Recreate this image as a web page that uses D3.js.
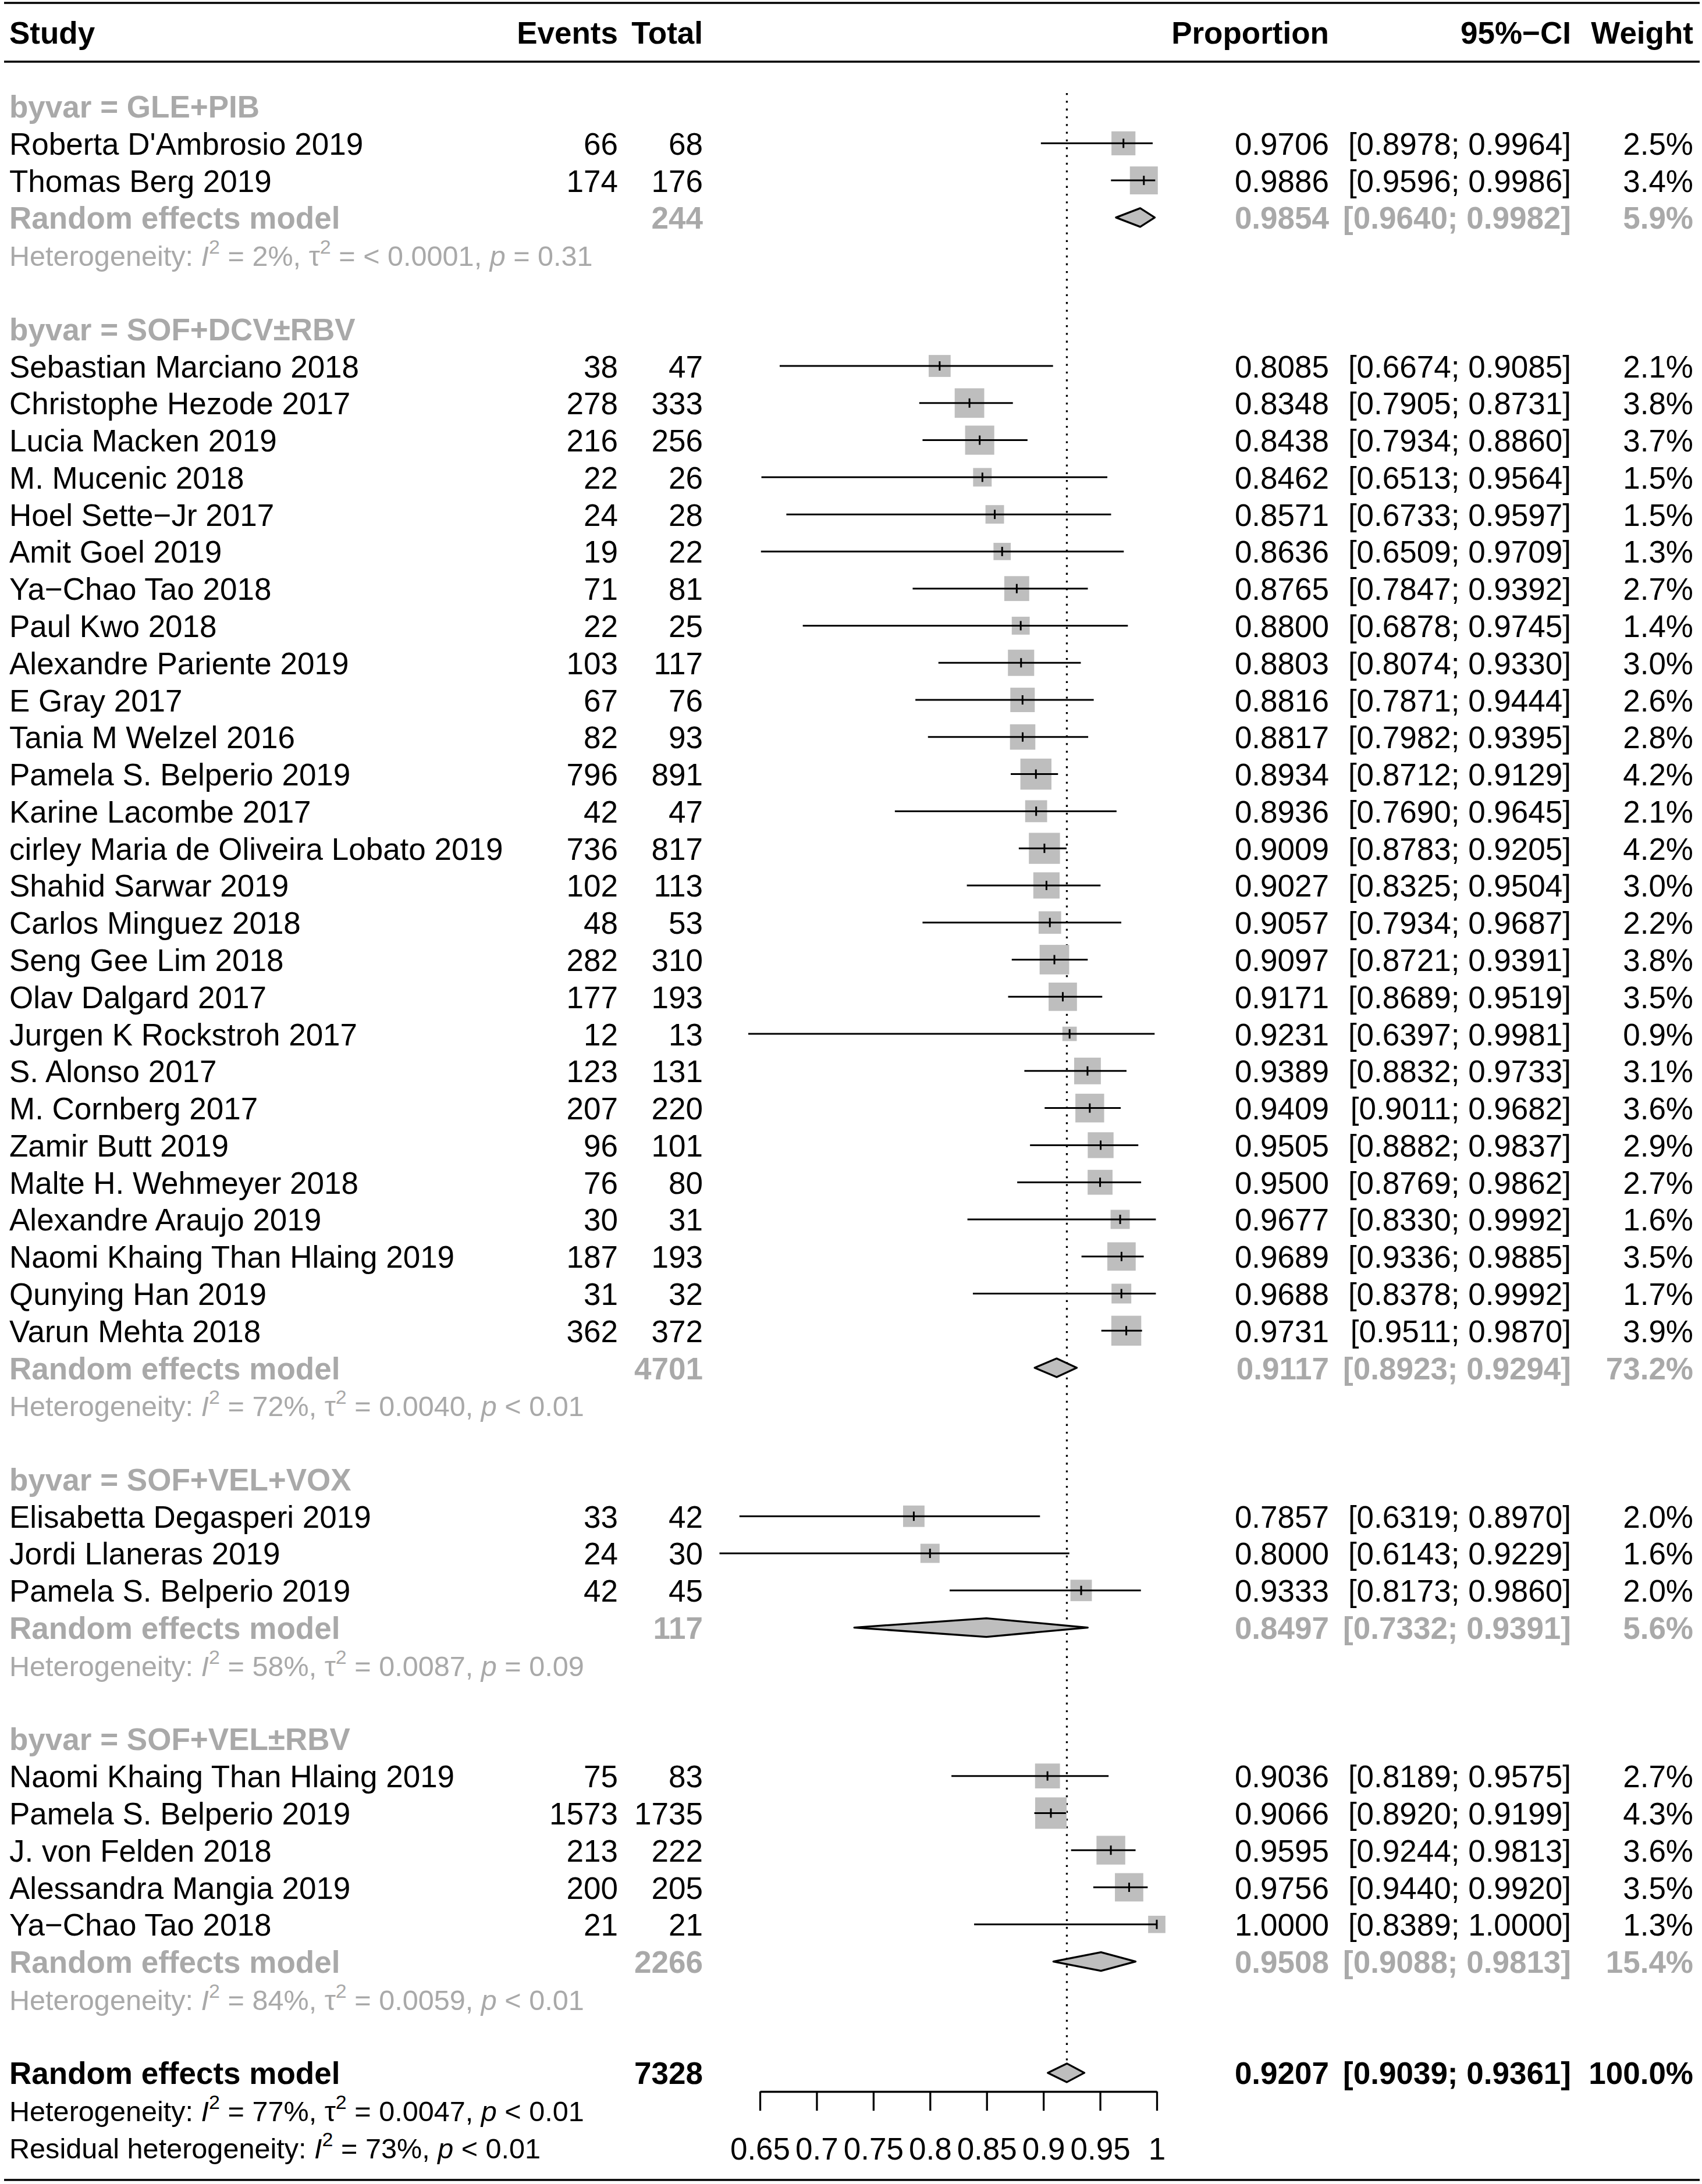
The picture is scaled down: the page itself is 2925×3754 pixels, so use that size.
<!DOCTYPE html>
<html><head><meta charset="utf-8">
<script src="https://cdn.jsdelivr.net/npm/d3@7"></script>
<style>html,body{margin:0;padding:0;background:#fff;} svg{display:block;}</style>
</head><body><svg id="chart" width="2925" height="3754"></svg>
<script>
// ---------------- DATA ----------------
const studyNames = [
  "Roberta D'Ambrosio 2019","Thomas Berg 2019",
  "Sebastian Marciano 2018","Christophe Hezode 2017","Lucia Macken 2019","M. Mucenic 2018",
  "Hoel Sette\u2212Jr 2017","Amit Goel 2019","Ya\u2212Chao Tao 2018","Paul Kwo 2018",
  "Alexandre Pariente 2019","E Gray 2017","Tania M Welzel 2016","Pamela S. Belperio 2019",
  "Karine Lacombe 2017","cirley Maria de Oliveira Lobato 2019","Shahid Sarwar 2019",
  "Carlos Minguez 2018","Seng Gee Lim 2018","Olav Dalgard 2017","Jurgen K Rockstroh 2017",
  "S. Alonso 2017","M. Cornberg 2017","Zamir Butt 2019","Malte H. Wehmeyer 2018",
  "Alexandre Araujo 2019","Naomi Khaing Than Hlaing 2019","Qunying Han 2019","Varun Mehta 2018",
  "Elisabetta Degasperi 2019","Jordi Llaneras 2019","Pamela S. Belperio 2019",
  "Naomi Khaing Than Hlaing 2019","Pamela S. Belperio 2019","J. von Felden 2018",
  "Alessandra Mangia 2019","Ya\u2212Chao Tao 2018"
];
const studyGroup = [0,0, 1,1,1,1,1,1,1,1,1,1,1,1,1,1,1,1,1,1,1,1,1,1,1,1,1,1,1, 2,2,2, 3,3,3,3,3];
const studyEvents = [66,174, 38,278,216,22,24,19,71,22,103,67,82,796,42,736,102,48,282,177,12,123,207,96,76,30,187,31,362, 33,24,42, 75,1573,213,200,21];
const studyTotals = [68,176, 47,333,256,26,28,22,81,25,117,76,93,891,47,817,113,53,310,193,13,131,220,101,80,31,193,32,372, 42,30,45, 83,1735,222,205,21];
const studyProp = [0.9706,0.9886, 0.8085,0.8348,0.8438,0.8462,0.8571,0.8636,0.8765,0.8800,0.8803,0.8816,0.8817,0.8934,0.8936,0.9009,0.9027,0.9057,0.9097,0.9171,0.9231,0.9389,0.9409,0.9505,0.9500,0.9677,0.9689,0.9688,0.9731, 0.7857,0.8000,0.9333, 0.9036,0.9066,0.9595,0.9756,1.0000];
const studyLower = [0.8978,0.9596, 0.6674,0.7905,0.7934,0.6513,0.6733,0.6509,0.7847,0.6878,0.8074,0.7871,0.7982,0.8712,0.7690,0.8783,0.8325,0.7934,0.8721,0.8689,0.6397,0.8832,0.9011,0.8882,0.8769,0.8330,0.9336,0.8378,0.9511, 0.6319,0.6143,0.8173, 0.8189,0.8920,0.9244,0.9440,0.8389];
const studyUpper = [0.9964,0.9986, 0.9085,0.8731,0.8860,0.9564,0.9597,0.9709,0.9392,0.9745,0.9330,0.9444,0.9395,0.9129,0.9645,0.9205,0.9504,0.9687,0.9391,0.9519,0.9981,0.9733,0.9682,0.9837,0.9862,0.9992,0.9885,0.9992,0.9870, 0.8970,0.9229,0.9860, 0.9575,0.9199,0.9813,0.9920,1.0000];
const studyWeight = [2.5,3.4, 2.1,3.8,3.7,1.5,1.5,1.3,2.7,1.4,3.0,2.6,2.8,4.2,2.1,4.2,3.0,2.2,3.8,3.5,0.9,3.1,3.6,2.9,2.7,1.6,3.5,1.7,3.9, 2.0,1.6,2.0, 2.7,4.3,3.6,3.5,1.3];

const groupLabels = ["GLE+PIB","SOF+DCV\u00b1RBV","SOF+VEL+VOX","SOF+VEL\u00b1RBV"];
const groupTotals = [244,4701,117,2266];
const groupProp = [0.9854,0.9117,0.8497,0.9508];
const groupLower = [0.9640,0.8923,0.7332,0.9088];
const groupUpper = [0.9982,0.9294,0.9391,0.9813];
const groupWeight = [5.9,73.2,5.6,15.4];
const groupI2 = [2,72,58,84];
const groupTau2 = ["< 0.0001","0.0040","0.0087","0.0059"];
const groupPval = ["= 0.31","< 0.01","= 0.09","< 0.01"];

const overallTotal = [7328];
const overallProp = [0.9207];
const overallLower = [0.9039];
const overallUpper = [0.9361];
const overallWeight = [100.0];
const overallI2 = [77];
const overallTau2 = ["0.0047"];
const overallPval = ["< 0.01"];
const residualI2 = [73];
const residualPval = ["< 0.01"];

const axisTicks = [0.65,0.7,0.75,0.8,0.85,0.9,0.95,1];
const axisTickLabels = ["0.65","0.7","0.75","0.8","0.85","0.9","0.95","1"];
const headers = ["Study","Events","Total","Proportion","95%\u2212CI","Weight"];

// ---------------- LAYOUT ----------------
const FONT = "'Liberation Sans', Arial, Helvetica, sans-serif";
const FS = 53, FSH = 48.6;
const GREY = "#a9a9a9", BOXFILL = "#bebebe";
const svg = d3.select("#chart").style("font-family", FONT);

const y = d3.scaleLinear().domain([0, 57]).range([55, 55 + 57 * 63.78]);
const x = d3.scaleLinear().domain([0.65, 1]).range([1306, 1988]);
const boxSize = d3.scaleSqrt().domain([0, 4.3]).range([0, 54]);
const BASE = 19.5;

const colStudy = 16, colEvents = 1062, colTotal = 1208, colProp = 2284, colCI = 2700, colW = 2910;
const f4 = d3.format(".4f"), f1 = v => d3.format(".1f")(v) + "%";
const ciStr = (l, u) => "[" + f4(l) + "; " + f4(u) + "]";

// rows
const rows = [];
let r = 2;
groupLabels.forEach((g, gi) => {
  rows.push({type: "group", gi, r: r++});
  studyNames.forEach((n, si) => { if (studyGroup[si] === gi) rows.push({type: "study", si, r: r++}); });
  rows.push({type: "rem", gi, r: r++});
  rows.push({type: "het", gi, r: r++});
  r++;
});
const overallRow = r;

// rules
[5, 106, 3747].forEach(yy => svg.append("line").attr("x1", 7).attr("x2", 2921)
  .attr("y1", yy).attr("y2", yy).attr("stroke", "#000").attr("stroke-width", 3.5));

// header
const hdr = svg.append("g").attr("font-weight", "bold").attr("font-size", FS);
const hdrX = [colStudy, colEvents, colTotal, colProp, colCI, colW];
headers.forEach((h, i) => hdr.append("text").attr("x", hdrX[i]).attr("y", y(0) + BASE)
  .attr("text-anchor", i === 0 ? "start" : "end").text(h));

// reference dotted line
svg.append("line").attr("x1", x(overallProp[0])).attr("x2", x(overallProp[0]))
  .attr("y1", 160).attr("y2", y(overallRow)).attr("stroke", "#000")
  .attr("stroke-width", 3.3).attr("stroke-dasharray", "3.3,10");

function textAt(g, xx, row, str, opts) {
  return g.append("text").attr("x", xx).attr("y", y(row) + BASE)
    .attr("text-anchor", opts.anchor || "end")
    .attr("font-size", opts.fs || FS)
    .attr("font-weight", opts.bold ? "bold" : "normal")
    .attr("fill", opts.color || "#000").text(str);
}

function hetText(g, row, color, prefix, i2, tau2, pval) {
  const t = g.append("text").attr("x", colStudy).attr("y", y(row) + BASE)
    .attr("font-size", FSH).attr("fill", color).style("white-space", "pre");
  t.append("tspan").text(prefix);
  t.append("tspan").attr("font-style", "italic").text("I");
  t.append("tspan").attr("font-size", 34).attr("dy", -21).text("2");
  t.append("tspan").attr("dy", 21).text(" = " + i2 + "%, ");
  if (tau2 !== null) {
    t.append("tspan").text("\u03c4");
    t.append("tspan").attr("font-size", 34).attr("dy", -21).text("2");
    t.append("tspan").attr("dy", 21).text(" = " + tau2 + ", ");
  }
  t.append("tspan").attr("font-style", "italic").text("p");
  t.append("tspan").text(" " + pval);
}

function diamond(g, row, p, lo, hi) {
  const yc = y(row), h = 16;
  g.append("polygon")
    .attr("points", [[x(lo), yc], [x(p), yc - h], [x(hi), yc], [x(p), yc + h]].map(d => d.join(",")).join(" "))
    .attr("fill", BOXFILL).attr("stroke", "#000").attr("stroke-width", 3.3).attr("stroke-linejoin", "round");
}

const body = svg.append("g");
rows.forEach(d => {
  if (d.type === "group") {
    textAt(body, colStudy, d.r, "byvar = " + groupLabels[d.gi], {anchor: "start", bold: true, color: GREY});
  } else if (d.type === "study") {
    const i = d.si, yc = y(d.r), s = boxSize(studyWeight[i]);
    textAt(body, colStudy, d.r, studyNames[i], {anchor: "start"});
    textAt(body, colEvents, d.r, studyEvents[i], {});
    textAt(body, colTotal, d.r, studyTotals[i], {});
    textAt(body, colProp, d.r, f4(studyProp[i]), {});
    textAt(body, colCI, d.r, ciStr(studyLower[i], studyUpper[i]), {});
    textAt(body, colW, d.r, f1(studyWeight[i]), {});
    body.append("rect").attr("x", x(studyProp[i]) - s / 2).attr("y", yc - s / 2)
      .attr("width", s).attr("height", s).attr("fill", BOXFILL);
    body.append("line").attr("x1", x(studyLower[i])).attr("x2", x(studyUpper[i]))
      .attr("y1", yc).attr("y2", yc).attr("stroke", "#000").attr("stroke-width", 3);
    body.append("line").attr("x1", x(studyProp[i])).attr("x2", x(studyProp[i]))
      .attr("y1", yc - 8).attr("y2", yc + 8).attr("stroke", "#000").attr("stroke-width", 3);
  } else if (d.type === "rem") {
    const gi = d.gi, o = {bold: true, color: GREY};
    textAt(body, colStudy, d.r, "Random effects model", {anchor: "start", bold: true, color: GREY});
    textAt(body, colTotal, d.r, groupTotals[gi], o);
    textAt(body, colProp, d.r, f4(groupProp[gi]), o);
    textAt(body, colCI, d.r, ciStr(groupLower[gi], groupUpper[gi]), o);
    textAt(body, colW, d.r, f1(groupWeight[gi]), o);
    diamond(body, d.r, groupProp[gi], groupLower[gi], groupUpper[gi]);
  } else if (d.type === "het") {
    hetText(body, d.r, GREY, "Heterogeneity: ", groupI2[d.gi], groupTau2[d.gi], groupPval[d.gi]);
  }
});

// overall
const ov = {bold: true};
textAt(body, colStudy, overallRow, "Random effects model", {anchor: "start", bold: true});
textAt(body, colTotal, overallRow, overallTotal[0], ov);
textAt(body, colProp, overallRow, f4(overallProp[0]), ov);
textAt(body, colCI, overallRow, ciStr(overallLower[0], overallUpper[0]), ov);
textAt(body, colW, overallRow, f1(overallWeight[0]), ov);
diamond(body, overallRow, overallProp[0], overallLower[0], overallUpper[0]);
hetText(body, overallRow + 1, "#000", "Heterogeneity: ", overallI2[0], overallTau2[0], overallPval[0]);
hetText(body, overallRow + 2, "#000", "Residual heterogeneity: ", residualI2[0], null, residualPval[0]);

// axis
const axisY = 3595;
const ax = svg.append("g").attr("transform", `translate(0,${axisY})`)
  .call(d3.axisBottom(x).tickValues(axisTicks).tickSize(33).tickSizeOuter(0).tickPadding(46)
    .tickFormat((v, i) => axisTickLabels[i]));
ax.attr("font-family", FONT).attr("font-size", FS);
ax.select(".domain").attr("stroke", "#000").attr("stroke-width", 3.3);
ax.selectAll(".tick line").attr("stroke", "#000").attr("stroke-width", 3.3);
ax.selectAll(".tick text").attr("fill", "#000").attr("font-size", FS);
</script></body></html>
